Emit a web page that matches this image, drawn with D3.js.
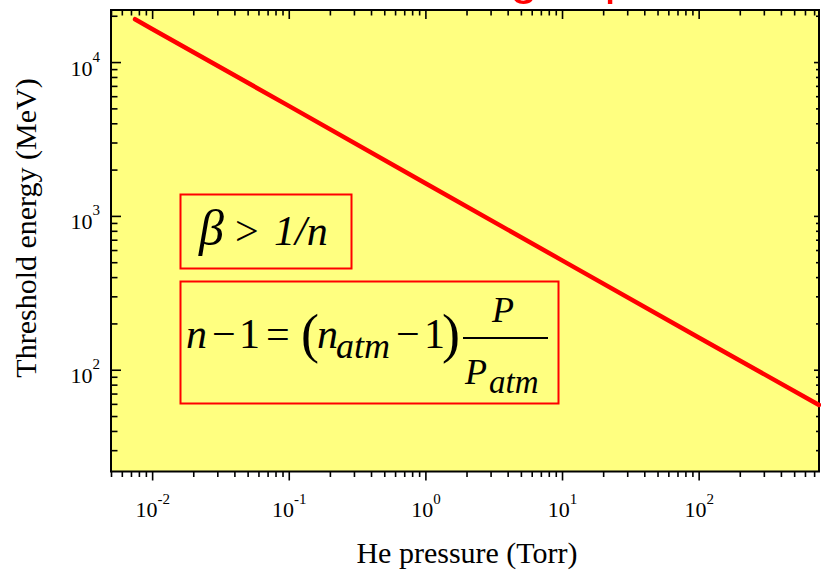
<!DOCTYPE html>
<html>
<head>
<meta charset="utf-8">
<script src="https://cdn.jsdelivr.net/npm/d3@7.9.0/dist/d3.min.js"></script>
<style>
  body { margin: 0; background: #fff; }
  svg { display: block; }
  .serif { font-family: "Liberation Serif", "Times New Roman", serif; }
</style>
</head>
<body>
<div id="chart"></div>
<script>
// values
const pressure = [0.0075, 0.01, 0.1, 1, 10, 100, 760];      // Torr
const energy = [19000, 16400, 5190, 1630, 514, 162, 59];     // MeV
const xMajor = [0.01, 0.1, 1, 10, 100];
const xExp = ['-2', '-1', '0', '1', '2'];
const yMajor = [100, 1000, 10000];
const yExp = ['2', '3', '4'];

const width = 821, height = 570;
const plot = { left: 111, right: 819, top: 10, bottom: 471.5 };

const svg = d3.select('#chart').append('svg')
  .attr('width', width).attr('height', height);

const x = d3.scaleLog().domain([0.005, 760]).range([plot.left, plot.right]);
const y = d3.scaleLog().domain([21.8, 21800]).range([plot.bottom, plot.top]);

// cut-off red title at the very top
const title = svg.append('text')
  .attr('y', -6)
  .attr('fill', '#ff0000')
  .style('font-family', '"Liberation Sans", Arial, sans-serif')
  .style('font-size', '50px')
  .text('Threshold vs gas pressure');
const gIdx = title.text().indexOf('gas');
const gOff = title.node().getSubStringLength(0, gIdx);
title.attr('x', 510 - gOff);

// plot background
svg.append('rect')
  .attr('x', plot.left).attr('y', plot.top)
  .attr('width', plot.right - plot.left).attr('height', plot.bottom - plot.top)
  .attr('fill', '#ffff80');

const minorX = x.ticks().filter(v => !xMajor.includes(v));
const minorY = y.ticks().filter(v => !yMajor.includes(v));

function styleAxis(g) {
  g.select('.domain').remove();
  g.selectAll('line').attr('stroke', '#000').attr('stroke-width', 1.6);
}

// bottom (ticks outward)
svg.append('g').attr('transform', `translate(0,${plot.bottom})`)
  .call(d3.axisBottom(x).tickValues(minorX).tickSize(5.5).tickFormat(''))
  .call(styleAxis);
const bottomAxis = svg.append('g').attr('transform', `translate(0,${plot.bottom})`)
  .call(d3.axisBottom(x).tickValues(xMajor).tickSize(9).tickPadding(0))
  .call(styleAxis);
bottomAxis.selectAll('text')
  .attr('class', 'serif').attr('dy', null).attr('y', 45.5)
  .attr('font-size', null).attr('font-family', null)
  .style('font-size', '22px').attr('fill', '#000')
  .each(function (d, i) {
    const t = d3.select(this).text(null);
    t.append('tspan').text('10');
    t.append('tspan').attr('dy', -13).style('font-size', '15px').text(xExp[i]);
  });

// top (ticks inward)
svg.append('g').attr('transform', `translate(0,${plot.top})`)
  .call(d3.axisTop(x).tickValues(minorX).tickSize(-5.5).tickFormat(''))
  .call(styleAxis);
svg.append('g').attr('transform', `translate(0,${plot.top})`)
  .call(d3.axisTop(x).tickValues(xMajor).tickSize(-9).tickFormat(''))
  .call(styleAxis);

// left (ticks inward)
svg.append('g').attr('transform', `translate(${plot.left},0)`)
  .call(d3.axisLeft(y).tickValues(minorY).tickSize(-6.5).tickFormat(''))
  .call(styleAxis);
const leftAxis = svg.append('g').attr('transform', `translate(${plot.left},0)`)
  .call(d3.axisLeft(y).tickValues(yMajor).tickSize(-10).tickPadding(0))
  .call(styleAxis);
leftAxis.selectAll('text')
  .attr('class', 'serif').attr('dy', null).attr('y', 13).attr('x', -11)
  .attr('font-size', null).attr('font-family', null)
  .style('font-size', '22px').attr('fill', '#000')
  .each(function (d, i) {
    const t = d3.select(this).text(null);
    t.append('tspan').text('10');
    t.append('tspan').attr('dy', -14).style('font-size', '15px').text(yExp[i]);
  });

// right (ticks inward)
svg.append('g').attr('transform', `translate(${plot.right},0)`)
  .call(d3.axisRight(y).tickValues(minorY).tickSize(-3).tickFormat(''))
  .call(styleAxis);
svg.append('g').attr('transform', `translate(${plot.right},0)`)
  .call(d3.axisRight(y).tickValues(yMajor).tickSize(-5).tickFormat(''))
  .call(styleAxis);

// frame
svg.append('rect')
  .attr('x', plot.left).attr('y', plot.top)
  .attr('width', plot.right - plot.left).attr('height', plot.bottom - plot.top)
  .attr('fill', 'none').attr('stroke', '#000').attr('stroke-width', 2);

// threshold curve
const line = d3.line().x(d => x(d[0])).y(d => y(d[1]));
svg.append('path')
  .datum(d3.zip(pressure, energy))
  .attr('d', line)
  .attr('fill', 'none')
  .attr('stroke', '#ff0000')
  .attr('stroke-width', 4.5)
  .attr('stroke-linecap', 'round');

// axis titles
svg.append('text').attr('class', 'serif')
  .attr('x', 467).attr('y', 563).attr('text-anchor', 'middle')
  .style('font-size', '30px').text('He pressure (Torr)');
svg.append('text').attr('class', 'serif')
  .attr('transform', 'translate(36,228) rotate(-90)').attr('text-anchor', 'middle')
  .style('font-size', '30px').text('Threshold energy (MeV)');

// formula boxes
svg.append('rect').attr('x', 180.5).attr('y', 194.5).attr('width', 171).attr('height', 74)
  .attr('fill', 'none').attr('stroke', '#ff0000').attr('stroke-width', 2);
svg.append('rect').attr('x', 180.5).attr('y', 281.5).attr('width', 378).attr('height', 122)
  .attr('fill', 'none').attr('stroke', '#ff0000').attr('stroke-width', 2);

function piece(text, px, py, size, italic) {
  return svg.append('text').attr('class', 'serif')
    .attr('x', px).attr('y', py)
    .style('font-size', size + 'px')
    .style('font-style', italic ? 'italic' : 'normal')
    .text(text);
}

piece('\u03b2', 199, 245, 50, true);
piece('>', 235, 245, 42, false);
piece('1/n', 274, 245, 42, true);

piece('n', 186, 348, 42, true);
piece('\u2212', 212, 348, 42, false);
piece('1', 239, 348, 42, false);
piece('=', 266, 348, 42, false);
piece('(', 301, 352, 54, false);
piece('n', 317, 348, 42, true);
piece('atm', 336, 358, 36, true);
piece('\u2212', 396, 348, 42, false);
piece('1', 424, 348, 42, false);
piece(')', 442, 352, 54, false);
svg.append('line').attr('x1', 463).attr('x2', 548).attr('y1', 338).attr('y2', 338)
  .attr('stroke', '#000').attr('stroke-width', 2);
piece('P', 492, 322, 36, true);
piece('P', 465, 384, 36, true);
piece('atm', 489, 393, 33, true);
</script>
</body>
</html>
